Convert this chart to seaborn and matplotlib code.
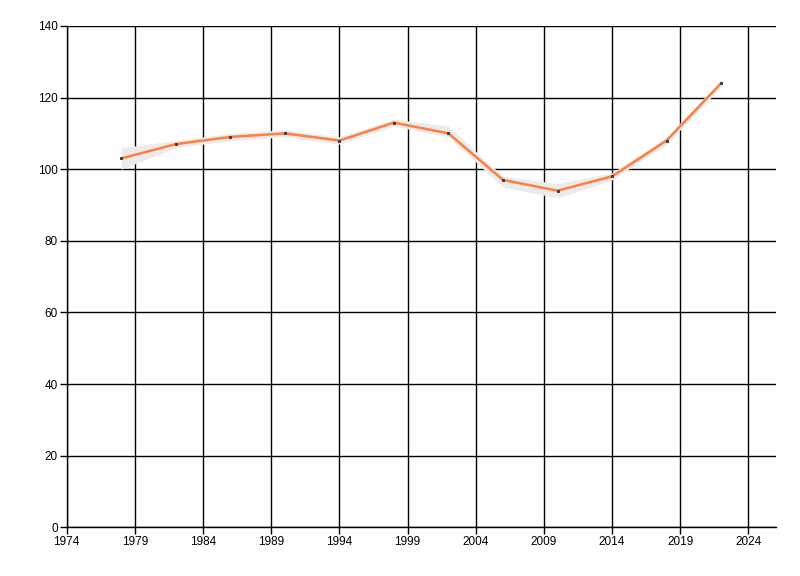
import numpy as np
import pandas as pd
import matplotlib
matplotlib.use("Agg")
import matplotlib.pyplot as plt
import seaborn as sns

# data
years = [1978, 1982, 1986, 1990, 1994, 1998, 2002, 2006, 2010, 2014, 2018, 2022]
values = [103, 107, 109, 110, 108, 113, 110, 97, 94, 98, 108, 124]
band_low = [100, 106, 108, 109, 107, 112, 109, 95, 92, 97, 107, 123]
band_high = [106, 108, 110, 111, 109, 114, 112, 98, 96, 99, 109, 125]
x_ticks = list(range(1974, 2025, 5))
y_ticks = list(range(0, 141, 20))

df = pd.DataFrame({"year": years, "value": values, "low": band_low, "high": band_high})

sns.set_style("white")
plt.rcParams["font.family"] = ["Liberation Sans", "DejaVu Sans"]

fig = plt.figure(figsize=(8, 5.76), dpi=100)
ax = fig.add_axes([0.0834, 0.0845, 0.8862, 0.8705])

# grey band behind the line
ax.fill_between(df["year"], df["low"], df["high"], color="#ebebeb", lw=0, zorder=2)

sns.lineplot(data=df, x="year", y="value", ax=ax, color="#ff7f41", lw=1.8,
             marker="s", markersize=1.5, markerfacecolor="#404040",
             markeredgecolor="#404040", zorder=3)

ax.set_xlim(1974, 2026)
ax.set_ylim(0, 140)
ax.set_xticks(x_ticks)
ax.set_yticks(y_ticks)
ax.set_xlabel("")
ax.set_ylabel("")

ax.grid(True, color="black", lw=1.0, zorder=1)
ax.set_axisbelow(True)
for side in ["top", "right"]:
    ax.spines[side].set_visible(False)
for side in ["left", "bottom"]:
    ax.spines[side].set_color("black")
    ax.spines[side].set_linewidth(1.0)

ax.tick_params(axis="both", direction="out", length=5, width=1, color="black",
               labelsize=8.5, labelcolor="black", pad=1.5,
               bottom=True, left=True)

fig.savefig("out.png", dpi=100, facecolor="white")
